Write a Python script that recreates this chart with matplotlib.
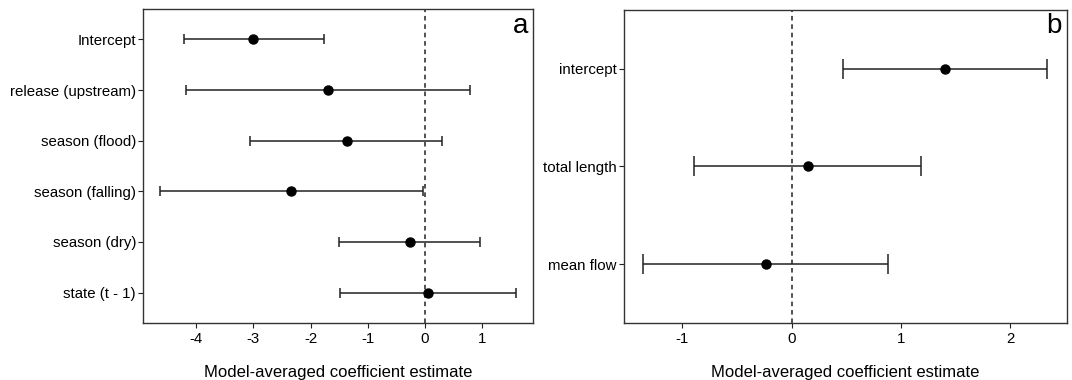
"""Model-averaged coefficient estimates with 95% intervals (two panels)."""

import matplotlib

matplotlib.use("Agg")

import matplotlib.pyplot as plt
import numpy as np

plt.rcParams["font.family"] = ["Liberation Sans", "DejaVu Sans"]

# panel a
A_TERMS = ["Intercept", "release (upstream)", "season (flood)",
           "season (falling)", "season (dry)", "state (t - 1)"]
A_EST = [-3.00, -1.70, -1.37, -2.34, -0.26, 0.06]
A_LOW = [-4.22, -4.18, -3.06, -4.63, -1.50, -1.48]
A_HIGH = [-1.77, 0.79, 0.30, -0.03, 0.97, 1.59]

# panel b
B_TERMS = ["intercept", "total length", "mean flow"]
B_EST = [1.40, 0.146, -0.238]
B_LOW = [0.47, -0.894, -1.358]
B_HIGH = [2.34, 1.187, 0.882]

LINE = "#222222"


def panel(ax, terms, est, low, high, xlim, xticks, letter, capsize):
    est = np.asarray(est)
    y = np.arange(len(terms), 0, -1)
    xerr = [est - np.asarray(low), np.asarray(high) - est]
    ax.axvline(0, color=LINE, linestyle=(0, (3, 2.5)), linewidth=1.1, zorder=1)
    ax.errorbar(est, y, xerr=xerr, fmt="o", color="black", ecolor=LINE,
                elinewidth=1.1, capsize=capsize, capthick=1.1, markersize=6.5, zorder=3)
    ax.set_yticks(y)
    ax.set_yticklabels(terms)
    ax.set_ylim(0.4, len(terms) + 0.6)
    ax.set_xlim(*xlim)
    ax.set_xticks(xticks)
    ax.set_xticklabels([str(t) for t in xticks])
    ax.tick_params(labelsize=10.8, length=3.5, width=0.8, colors=LINE, labelcolor="black")
    ax.tick_params(axis="y", pad=1.5)
    ax.tick_params(axis="x", pad=3)
    for s in ax.spines.values():
        s.set_color("#333333")
        s.set_linewidth(1.0)
    ax.set_xlabel("Model-averaged coefficient estimate", fontsize=12, labelpad=14)
    ax.text(0.987, 0.925, letter, transform=ax.transAxes, ha="right", va="baseline", fontsize=20)


fig = plt.figure(figsize=(10.72, 3.80), dpi=100)
ax_a = fig.add_axes([0.1334, 0.15, 0.3638, 0.8263])
ax_b = fig.add_axes([0.582, 0.15, 0.4133, 0.8237])

panel(ax_a, A_TERMS, A_EST, A_LOW, A_HIGH, (-4.93, 1.89), [-4, -3, -2, -1, 0, 1], "a", 3.3)
panel(ax_b, B_TERMS, B_EST, B_LOW, B_HIGH, (-1.535, 2.52), [-1, 0, 1, 2], "b", 7.2)

fig.savefig("out.png", dpi=100)
plt.close(fig)
